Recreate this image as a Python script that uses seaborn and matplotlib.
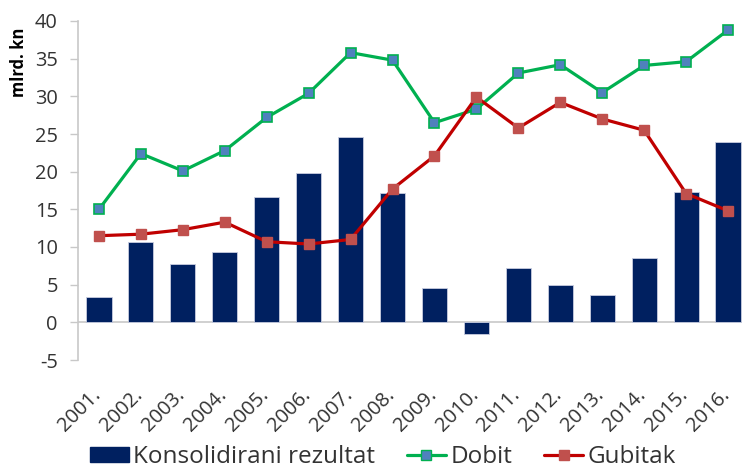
import matplotlib
matplotlib.use("Agg")
import matplotlib.pyplot as plt
import matplotlib.transforms as mtransforms
import seaborn as sns
import pandas as pd
from matplotlib.patches import Patch
from matplotlib.lines import Line2D

years = ["2001.", "2002.", "2003.", "2004.", "2005.", "2006.", "2007.", "2008.",
         "2009.", "2010.", "2011.", "2012.", "2013.", "2014.", "2015.", "2016."]
rezultat = [3.4, 10.6, 7.7, 9.4, 16.6, 19.8, 24.6, 17.2, 4.5, -1.6, 7.2, 4.9, 3.6, 8.6, 17.3, 24.0]
dobit = [15.0, 22.4, 20.1, 22.8, 27.2, 30.4, 35.8, 34.8, 26.5, 28.3, 33.1, 34.2, 30.5, 34.1, 34.6, 38.8]
gubitak = [11.5, 11.7, 12.3, 13.3, 10.7, 10.4, 11.0, 17.7, 22.1, 29.9, 25.8, 29.2, 27.0, 25.5, 17.1, 14.8]

df = pd.DataFrame({"godina": years, "rezultat": rezultat, "dobit": dobit, "gubitak": gubitak})

sns.set_style("white")
plt.rcParams["font.family"] = ["Open Sans", "DejaVu Sans"]
plt.rcParams["axes.unicode_minus"] = False

NAVY = "#002060"
GREEN = "#00B050"
BLUE = "#4F81BD"
RED = "#C00000"
RED_M = "#C0504D"
TXT = "#333333"

fig = plt.figure(figsize=(7.42, 4.68), dpi=100)
ax = fig.add_axes([78 / 742, 1 - 360 / 468, (749 - 78) / 742, (360 - 21) / 468])

sns.barplot(data=df, x="godina", y="rezultat", color=NAVY, width=0.6, ax=ax,
            saturation=1, edgecolor="#c8cde0", linewidth=0.6, zorder=2)
sns.pointplot(data=df, x="godina", y="dobit", color=GREEN, markers="s", ax=ax,
              linewidth=2.3, markersize=7, markerfacecolor=BLUE,
              markeredgecolor=GREEN, markeredgewidth=1.2, zorder=4)
sns.pointplot(data=df, x="godina", y="gubitak", color=RED, markers="s", ax=ax,
              linewidth=2.3, markersize=7, markerfacecolor=RED_M,
              markeredgecolor=RED_M, markeredgewidth=1.0, zorder=5)

ax.axhline(0, color="#c8c8c8", lw=1.2, zorder=1)
ax.set_xlim(-0.5, 15.5)
ax.set_ylim(-5, 40)
ax.set_yticks(range(-5, 41, 5))
ax.tick_params(axis="y", labelsize=14.4, colors=TXT, length=6, width=1,
               direction="out", left=True, pad=8.5)
ax.tick_params(axis="y", color="#c8c8c8")
ax.tick_params(axis="x", labelsize=14.5, colors=TXT, length=0, pad=18)
offset = mtransforms.ScaledTranslation(-8 / 100, 0, fig.dpi_scale_trans)
for lab in ax.get_xticklabels():
    lab.set_rotation(45)
    lab.set_ha("right")
    lab.set_va("top")
    lab.set_rotation_mode("anchor")
    lab.set_transform(lab.get_transform() + offset)
ax.set_xlabel("")
ax.set_ylabel("")
for s in ["top", "right", "bottom"]:
    ax.spines[s].set_visible(False)
ax.spines["left"].set_color("#c8c8c8")
ax.spines["left"].set_linewidth(1.2)

fig.text(19 / 742, 1 - 62 / 468, "mlrd. kn", rotation=90, fontsize=12,
         fontweight="bold", ha="center", va="center", color="#000000")

handles = [
    Patch(facecolor=NAVY, edgecolor=NAVY),
    Line2D([0], [0], color=GREEN, lw=2.3, marker="s", markersize=7,
           markerfacecolor=BLUE, markeredgecolor=GREEN),
    Line2D([0], [0], color=RED, lw=2.3, marker="s", markersize=7,
           markerfacecolor=RED_M, markeredgecolor=RED_M),
]
fig.legend(handles, ["Konsolidirani rezultat", "Dobit", "Gubitak"],
           loc="center", bbox_to_anchor=(383 / 742, 1 - 457 / 468), ncol=3,
           frameon=False, fontsize=17.5, handlelength=1.6, handleheight=0.6,
           handletextpad=0.2, columnspacing=1.3, labelcolor=TXT,
           borderaxespad=0, borderpad=0)

fig.savefig("out.png", dpi=100)
